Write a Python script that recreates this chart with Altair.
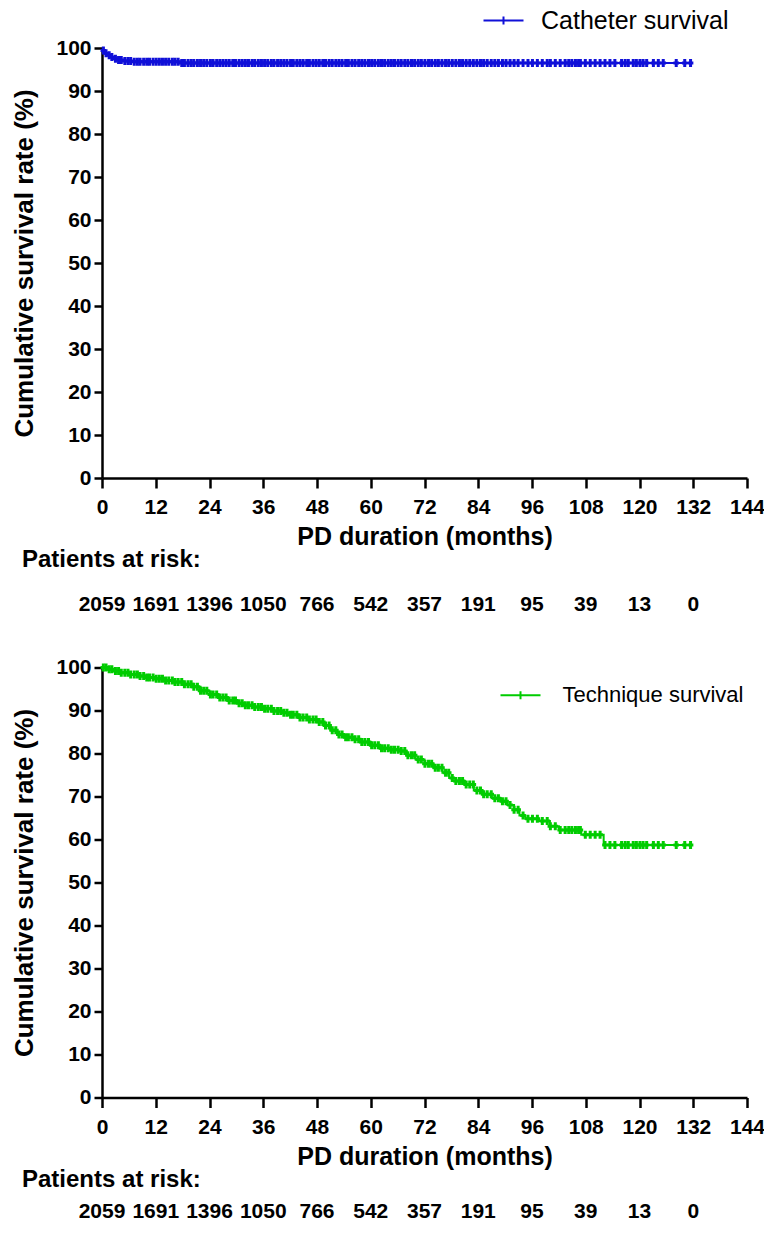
import altair as alt
import pandas as pd
import numpy as np

FONT = "Liberation Sans"
BLUE = "#1010D8"
GREEN = "#00CC00"

month_ticks = [0, 12, 24, 36, 48, 60, 72, 84, 96, 108, 120, 132, 144]
pct_ticks = [0, 10, 20, 30, 40, 50, 60, 70, 80, 90, 100]
risk_months = [0, 12, 24, 36, 48, 60, 72, 84, 96, 108, 120, 132]
at_risk = [2059, 1691, 1396, 1050, 766, 542, 357, 191, 95, 39, 13, 0]

# Catheter survival (event times in months, survival % after event)
cath_t = [0, 0.3, 0.7, 1.2, 1.8, 2.5, 3.5, 5.0, 7.0, 17.8, 131.4]
cath_s = [100, 99.4, 98.8, 98.3, 97.9, 97.5, 97.2, 97.0, 96.8, 96.5, 96.5]

# Technique survival
tech_t = [0, 1, 2.5, 4, 6, 8, 10, 12, 14, 16, 18, 20, 22, 24, 26, 28, 30, 32, 34,
          36, 38, 40, 42, 44, 46, 48, 49.5, 51, 52.5, 54, 56, 58, 60, 62, 64, 66.5,
          68, 70, 72, 74, 76, 77.5, 79, 81, 83, 85, 87, 89, 90.5, 92, 93.2, 94.5,
          97.5, 100, 102, 107, 112, 131.4]
tech_s = [100, 99.6, 99.2, 98.8, 98.4, 98.0, 97.7, 97.4, 97.0, 96.6, 96.1, 95.5, 94.6,
          93.7, 93.0, 92.3, 91.7, 91.2, 90.8, 90.4, 89.9, 89.5, 89.0, 88.4, 87.9, 87.3,
          86.5, 85.4, 84.4, 83.8, 83.3, 82.7, 81.9, 81.2, 80.9, 80.6, 79.6, 78.6, 77.6,
          76.7, 75.5, 74.3, 73.6, 72.8, 71.4, 70.5, 69.6, 68.9, 68.0, 66.9, 65.6, 64.8,
          64.3, 63.1, 62.2, 61.1, 58.7, 58.7]

# Censoring times (months)
censor_t = [0.3, 0.9, 1.6, 2.2, 3.0, 3.7, 4.3, 5.1, 5.8, 6.4, 7.2, 7.9, 8.5, 9.3, 10.0,
            10.6, 11.4, 12.1, 12.8, 13.5, 14.2, 14.9, 15.7, 16.3, 17.0, 17.8, 18.4, 19.2,
            19.9, 20.5, 21.3, 22.0, 22.7, 23.4, 24.2, 24.8, 25.6, 26.3, 27.0, 27.7, 28.4,
            29.2, 29.8, 30.6, 31.3, 32.0, 32.7, 33.5, 34.1, 34.9, 35.6, 36.3, 37.0, 37.8,
            38.4, 39.2, 39.9, 40.6, 41.3, 42.1, 42.7, 43.5, 44.2, 44.9, 45.7, 46.3, 47.1,
            47.8, 48.5, 49.3, 49.9, 50.7, 51.4, 52.2, 52.9, 53.6, 54.4, 55.0, 55.8, 56.5,
            57.3, 58.0, 58.7, 59.5, 60.2, 60.9, 61.7, 62.4, 63.1, 63.9, 64.6, 65.3, 66.1,
            66.8, 67.6, 68.3, 69.1, 69.8, 70.6, 71.3, 72.1, 72.9, 73.6, 74.4, 75.1, 75.9,
            76.7, 77.4, 78.2, 79.0, 79.8, 80.5, 81.3, 82.1, 82.9, 83.7, 84.5, 85.2, 86.0,
            86.9, 87.7, 88.5, 89.4, 90.2, 91.1, 92.0, 92.9, 94.0, 95.1, 96.1, 97.2, 98.3,
            99.4, 100.1, 101.2, 102.3, 103.4, 104.2, 104.9, 105.7, 106.4, 106.8, 107.9,
            109.0, 110.1, 111.2, 112.3, 113.4, 114.5, 116.0, 116.8, 117.5, 118.6, 119.3,
            120.1, 120.8, 121.6, 123.1, 124.2, 125.3, 128.2, 130.1, 131.4]

W = 645
H = 430
CROSS = "M-0.7,0H0.7M0,-1V1"
LEG_SYM = "M-5,0H5M0,-1V1"


def panel(ev_t, ev_s, name, color, leg_x, leg_y, leg_fs, leg_off, risk_dy):
    curve = pd.DataFrame({"t": ev_t, "s": ev_s, "series": name})
    idx = np.searchsorted(np.array(ev_t), np.array(censor_t), side="right") - 1
    cens = pd.DataFrame({"t": censor_t, "s": np.array(ev_s)[idx]})

    x = alt.X("t:Q", scale=alt.Scale(domain=[0, 144], nice=False, zero=False),
              axis=alt.Axis(values=month_ticks, title="PD duration (months)",
                            tickSize=10, tickWidth=2.5, domainWidth=2.5,
                            domainColor="black", tickColor="black",
                            labelFontSize=21, labelFontWeight="bold", labelFont=FONT,
                            labelColor="black", labelPadding=8.5, labelFlush=False,
                            labelOverlap=False, titleFontSize=25, titleFontWeight="bold",
                            titleFont=FONT, titleColor="black", titlePadding=7, grid=False))
    y = alt.Y("s:Q", scale=alt.Scale(domain=[0, 100], nice=False),
              axis=alt.Axis(values=pct_ticks, title="Cumulative survival rate (%)",
                            tickSize=8, tickWidth=2.5, domainWidth=2.5,
                            domainColor="black", tickColor="black",
                            labelFontSize=21, labelFontWeight="bold", labelFont=FONT,
                            labelColor="black", labelPadding=3, labelOverlap=False,
                            titleFontSize=26, titleFontWeight="bold", titleFont=FONT,
                            titleColor="black", titlePadding=18.2, grid=False))

    line = alt.Chart(curve).mark_line(interpolate="step-after", strokeWidth=2).encode(
        x=x, y=y,
        color=alt.Color("series:N", scale=alt.Scale(domain=[name], range=[color]),
                        legend=alt.Legend(title=None, orient="none", legendX=leg_x,
                                          legendY=leg_y, symbolType=LEG_SYM,
                                          symbolSize=64, symbolStrokeWidth=2,
                                          labelFontSize=leg_fs, labelFont=FONT,
                                          labelFontWeight="normal", labelColor="black",
                                          labelOffset=leg_off, labelLimit=400, padding=0)))
    pts = alt.Chart(cens).mark_point(shape=CROSS, size=64, filled=False, strokeWidth=3,
                                     color=color, opacity=1).encode(
        x=alt.X("t:Q"), y=alt.Y("s:Q"))
    risk = alt.Chart(pd.DataFrame({"t": risk_months, "n": at_risk})).mark_text(
        fontSize=21, fontWeight="bold", font=FONT, baseline="middle", align="center",
        color="black").encode(
        x=alt.X("t:Q"), y=alt.value(H + risk_dy), text=alt.Text("n:Q", format="d"))
    label = alt.Chart(pd.DataFrame({"txt": ["Patients at risk:"]})).mark_text(
        fontSize=24, fontWeight="bold", font=FONT, baseline="middle", align="left",
        color="black").encode(
        x=alt.value(-80), y=alt.value(H + 82), text="txt:N")
    return alt.layer(line, pts, risk, label).properties(width=W, height=H)


top = panel(cath_t, cath_s, "Catheter survival", BLUE, 389, -40, 25, 25, 127)
bottom = panel(tech_t, tech_s, "Technique survival", GREEN, 407.5, 16.7, 22, 31, 114)

chart = alt.vconcat(top, bottom, spacing=41.5).resolve_scale(
    color="independent").resolve_legend(color="independent").configure_view(
    stroke=None).properties(background="white",
                            padding={"left": 3, "top": 0, "right": -1, "bottom": 0})

chart.save("out.html", embed_options={"renderer": "svg", "actions": False})
